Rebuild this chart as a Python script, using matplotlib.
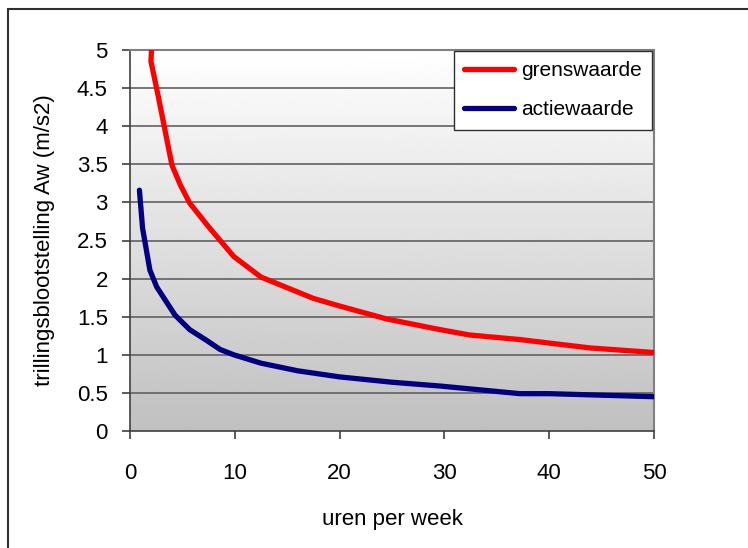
import numpy as np
import matplotlib.pyplot as plt
from matplotlib.patches import Rectangle

# uren per week vs trillingsblootstelling
grens_x = [2.05, 2.0, 2.7, 4.0, 4.8, 5.7, 7.5, 9.9, 12.5, 17.5, 20, 24.5, 29.6, 32.4, 37.2, 43.9, 50]
grens_y = [5.0, 4.85, 4.39, 3.49, 3.23, 2.99, 2.68, 2.29, 2.02, 1.74, 1.64, 1.47, 1.33, 1.26, 1.20, 1.09, 1.03]
actie_x = [0.9, 1.2, 1.9, 2.55, 4.3, 5.7, 7.3, 8.6, 9.9, 12.5, 16, 20, 25, 29.6, 37.2, 40, 50]
actie_y = [3.16, 2.66, 2.11, 1.89, 1.52, 1.33, 1.19, 1.07, 1.0, 0.89, 0.79, 0.71, 0.64, 0.59, 0.49, 0.49, 0.45]

x_ticks = [0, 10, 20, 30, 40, 50]
y_ticks = [0, 0.5, 1, 1.5, 2, 2.5, 3, 3.5, 4, 4.5, 5]
y_labels = ['0', '0.5', '1', '1.5', '2', '2.5', '3', '3.5', '4', '4.5', '5']

plt.rcParams['font.family'] = ['Liberation Sans', 'DejaVu Sans']

fig = plt.figure(figsize=(7.48, 5.48), dpi=100)
ax = fig.add_axes([130/748, 1-431/548, 524/748, 381/548])

# achtergrond met verloop (wit boven, grijs onder)
grad = np.linspace(0.753, 1.0, 256).reshape(-1, 1)
ax.imshow(grad, cmap='gray', vmin=0, vmax=1, origin='lower', aspect='auto',
          extent=[0, 50, 0, 5], zorder=0)

for yv in y_ticks[1:]:
    ax.axhline(yv, color='#606060', lw=1.2, zorder=1)

ax.plot(grens_x, grens_y, color='#ff0000', lw=3.8, solid_capstyle='round',
        solid_joinstyle='round', label='grenswaarde', zorder=3)
ax.plot(actie_x, actie_y, color='#000080', lw=3.8, solid_capstyle='round',
        solid_joinstyle='round', label='actiewaarde', zorder=3)

ax.set_xlim(0, 50)
ax.set_ylim(0, 5)
ax.set_xticks(x_ticks)
ax.set_yticks(y_ticks)
ax.set_yticklabels(y_labels)
ax.tick_params(axis='both', direction='out', length=6, width=1.2, colors='#404040',
               labelcolor='black', labelsize=16)
ax.tick_params(axis='y', pad=10)
ax.tick_params(axis='x', pad=17)

for s in ['left', 'bottom']:
    ax.spines[s].set_color('#404040')
    ax.spines[s].set_linewidth(1.2)
for s in ['right', 'top']:
    ax.spines[s].set_color('#808080')
    ax.spines[s].set_linewidth(1.5)

ax.set_xlabel('uren per week', fontsize=16)
ax.set_ylabel('trillingsblootstelling Aw (m/s2)', fontsize=16)
ax.xaxis.set_label_coords(0.5, -0.205)
ax.yaxis.set_label_coords(-0.143, 0.5)

leg = ax.legend(loc='upper left', bbox_to_anchor=(454/748, 1-51/548),
                bbox_transform=fig.transFigure, borderaxespad=0, fancybox=False,
                framealpha=1, edgecolor='#303030', fontsize=15, handlelength=2.4,
                handletextpad=0.3, labelspacing=0.95, borderpad=0.5)
leg.get_frame().set_linewidth(1.0)

# rand om de figuur
fig.add_artist(Rectangle((8/748, -0.1), 1.0, 1-9/548+0.1, transform=fig.transFigure,
                         fill=False, edgecolor='#303030', lw=1.5))

fig.savefig('out.png', dpi=100)
